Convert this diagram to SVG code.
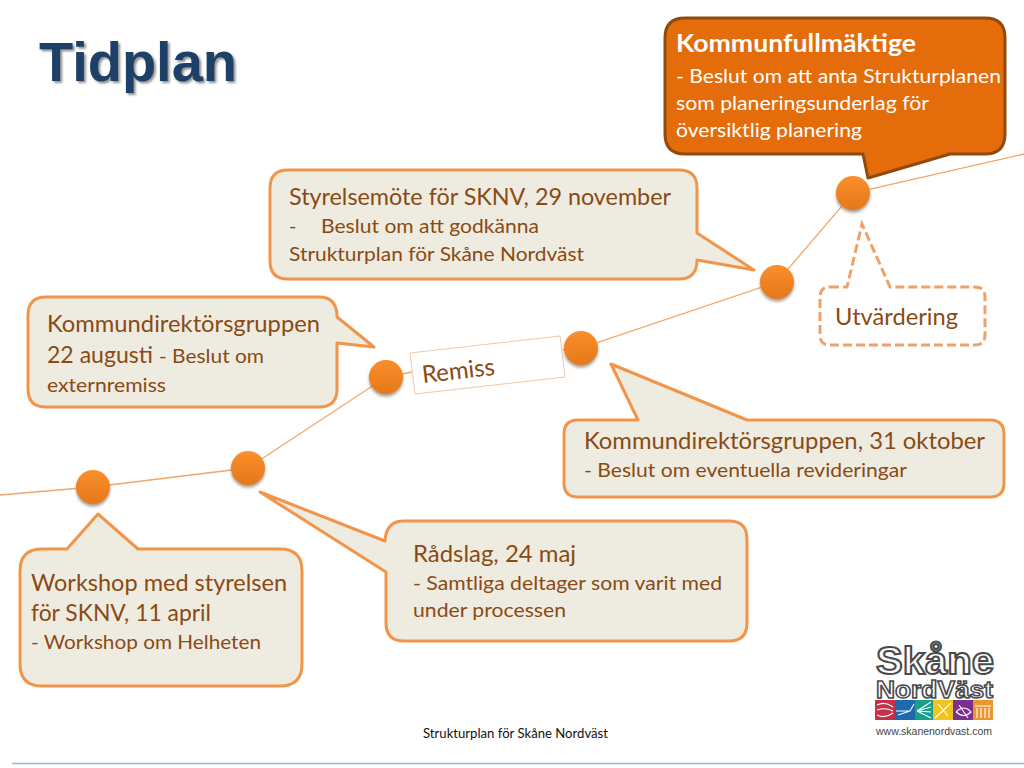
<svg xmlns="http://www.w3.org/2000/svg" width="1024" height="768" viewBox="0 0 1024 768">
<style>
text{font-family:"Lato","Carlito","Liberation Sans",sans-serif;fill:#8A4A14}
.callout{fill:#EEECE1;stroke:#F0954A;stroke-width:3;stroke-linejoin:round}
.l{font-size:24px}
.s{font-size:20px}
.w{fill:#fff}
.conn{fill:none;stroke:#EFA76C;stroke-width:1.3}
.dot{fill:url(#dotGrad);filter:url(#dotShadow)}
</style>
<defs>
<linearGradient id="dotGrad" x1="0" y1="0" x2="0" y2="1"><stop offset="0" stop-color="#FA8F2C"/><stop offset="1" stop-color="#E5781A"/></linearGradient>
<filter id="dotShadow" x="-40%" y="-40%" width="180%" height="180%"><feDropShadow dx="0" dy="2.5" stdDeviation="1.6" flood-color="#6E5A48" flood-opacity="0.6"/></filter>
<filter id="titleShadow" x="-5%" y="-10%" width="110%" height="125%"><feDropShadow dx="2" dy="2" stdDeviation="1.2" flood-color="#555" flood-opacity="0.65"/></filter>
</defs>
<rect width="1024" height="768" fill="#fff"/>
<text id="title" x="39" y="81" textLength="198" lengthAdjust="spacingAndGlyphs" style="font-family:'Liberation Sans',sans-serif;font-weight:700;font-size:56px;fill:#1F4068;filter:url(#titleShadow)">Tidplan</text>

<g id="connectors">
<path class="conn" d="M0 495L93 487L248 468L386 377L412 372M563 350L581 348L777 282L853 193L1024 154"/>
</g>

<g id="dots">
<circle id="dot1" class="dot" cx="93" cy="487" r="17"/>
<circle id="dot2" class="dot" cx="248" cy="468" r="17"/>
<circle id="dot3" class="dot" cx="386" cy="377" r="17"/>
<circle id="dot4" class="dot" cx="581" cy="348" r="17"/>
<circle id="dot5" class="dot" cx="777" cy="282" r="17"/>
<circle id="dot6" class="dot" cx="853" cy="193" r="17"/>
</g>

<g id="node-kommunfullmaktige">
<path d="M685 18H985Q1005 18 1005 38V134Q1005 154 985 154H950L868 178L863 154H685Q665 154 665 134V38Q665 18 685 18Z" fill="#E46C0A" stroke="#8F4A0C" stroke-width="3" stroke-linejoin="round"/>
<text class="w" x="676" y="52" textLength="240" lengthAdjust="spacingAndGlyphs" style="font-size:25px;font-weight:700">Kommunfullmäktige</text>
<text class="w s" x="676" y="83" textLength="325" lengthAdjust="spacingAndGlyphs">- Beslut om att anta Strukturplanen</text>
<text class="w s" x="676" y="110" textLength="253" lengthAdjust="spacingAndGlyphs">som planeringsunderlag för</text>
<text class="w s" x="676" y="137" textLength="186" lengthAdjust="spacingAndGlyphs">översiktlig planering</text>
</g>

<g id="node-styrelsemote">
<path class="callout" d="M288 170H679Q697 170 697 188V233L754 270L697 260Q697 279 679 279H288Q270 279 270 261V188Q270 170 288 170Z"/>
<text class="l" x="289" y="205" textLength="382" lengthAdjust="spacingAndGlyphs">Styrelsemöte för SKNV, 29 november</text>
<text class="s" x="289" y="233">-</text>
<text class="s" x="321" y="233" textLength="218" lengthAdjust="spacingAndGlyphs">Beslut om att godkänna</text>
<text class="s" x="289" y="261" textLength="295" lengthAdjust="spacingAndGlyphs">Strukturplan för Skåne Nordväst</text>
</g>

<g id="node-kommundirektor-aug">
<path class="callout" d="M46 297H319Q337 297 337 317L374 347L337 343V389Q337 407 319 407H46Q28 407 28 389V315Q28 297 46 297Z"/>
<text class="l" x="47" y="332" textLength="273" lengthAdjust="spacingAndGlyphs">Kommundirektörsgruppen</text>
<text class="l" x="47" y="363" textLength="106" lengthAdjust="spacingAndGlyphs">22 augusti</text>
<text class="s" x="159" y="363" textLength="105" lengthAdjust="spacingAndGlyphs">- Beslut om</text>
<text class="s" x="47" y="392" textLength="119" lengthAdjust="spacingAndGlyphs">externremiss</text>
</g>

<g id="node-remiss">
<polygon points="410,353 560,336 565,377 415,394" fill="#fff" stroke="#EBC9AC" stroke-width="1"/>
<text x="423" y="383" transform="rotate(-6.5 423 383)" textLength="73" lengthAdjust="spacingAndGlyphs" style="font-size:24px">Remiss</text>
</g>

<g id="node-kommundirektor-okt">
<path class="callout" d="M578 420H638L611 364L747 420H990Q1004 420 1004 434V483Q1004 497 990 497H578Q564 497 564 483V434Q564 420 578 420Z"/>
<text class="l" x="584" y="449" textLength="401" lengthAdjust="spacingAndGlyphs">Kommundirektörsgruppen, 31 oktober</text>
<text class="s" x="584" y="477" textLength="323" lengthAdjust="spacingAndGlyphs">- Beslut om eventuella revideringar</text>
</g>

<g id="node-radslag">
<path class="callout" d="M404 521H729Q747 521 747 539V623Q747 641 729 641H404Q386 641 386 623V572L260 492L385 541Q386 521 404 521Z"/>
<text class="l" x="413" y="562" textLength="163" lengthAdjust="spacingAndGlyphs">Rådslag, 24 maj</text>
<text class="s" x="413" y="590" textLength="309" lengthAdjust="spacingAndGlyphs">- Samtliga deltager som varit med</text>
<text class="s" x="413" y="617" textLength="153" lengthAdjust="spacingAndGlyphs">under processen</text>
</g>

<g id="node-workshop">
<path class="callout" d="M42 549H67L98 514L138 549H280Q302 549 302 571V664Q302 686 280 686H42Q20 686 20 664V571Q20 549 42 549Z"/>
<text class="l" x="31" y="591" textLength="256" lengthAdjust="spacingAndGlyphs">Workshop med styrelsen</text>
<text class="l" x="31" y="621" textLength="180" lengthAdjust="spacingAndGlyphs">för SKNV, 11 april</text>
<text class="s" x="31" y="649" textLength="230" lengthAdjust="spacingAndGlyphs">- Workshop om Helheten</text>
</g>

<g id="node-utvardering">
<path d="M830 287H847L862 224L890 287H975Q985 287 985 297V335Q985 345 975 345H830Q820 345 820 335V297Q820 287 830 287Z" fill="#fff" stroke="#EFA268" stroke-width="3" stroke-dasharray="9 4"/>
<text class="l" x="835" y="325" textLength="123" lengthAdjust="spacingAndGlyphs">Utvärdering</text>
</g>

<g id="logo">
<text x="876" y="674" textLength="118" lengthAdjust="spacingAndGlyphs" style="font-family:'Liberation Sans',sans-serif;font-weight:700;font-size:38px;fill:#fff;stroke:#4A4A4A;stroke-width:2;paint-order:normal">Skåne</text>
<text x="876" y="698" textLength="117" lengthAdjust="spacingAndGlyphs" style="font-family:'Liberation Sans',sans-serif;font-weight:700;font-size:24px;fill:#fff;stroke:#4A4A4A;stroke-width:1.5">NordVäst</text>
<rect x="875" y="700" width="20" height="20" fill="#C5304A"/>
<rect x="895" y="700" width="20" height="20" fill="#1C69AE"/>
<rect x="915" y="700" width="18" height="20" fill="#18A08C"/>
<rect x="933" y="700" width="20" height="20" fill="#F2C31C"/>
<rect x="953" y="700" width="20" height="20" fill="#7B2F8E"/>
<rect x="973" y="700" width="20" height="20" fill="#E8962E"/>
<path d="M877 705Q885 701 893 707M877 710Q885 707 893 711M877 715Q885 719 893 713M896 711H910L914 704M898 715L910 711M917 711L931 702M917 711L931 707M917 711L931 712M917 711L931 718M935 718L951 703M938 704L948 716M956 712Q964 704 971 712Q964 719 956 712M959 705L968 718M977 718V708M981 718V708M985 718V708M989 718V708M975 706H991" fill="none" stroke="#fff" stroke-width="1.1"/>
<text x="876" y="735" textLength="116" lengthAdjust="spacingAndGlyphs" style="font-family:'Liberation Sans',sans-serif;font-size:11px;fill:#444">www.skanenordvast.com</text>
</g>

<g id="footer">
<text x="423" y="738" textLength="185" lengthAdjust="spacingAndGlyphs" style="font-size:13px;fill:#111">Strukturplan för Skåne Nordväst</text>
<path d="M12 763.5H1024" stroke="#8DB8E8" stroke-width="1.5" fill="none"/>
</g>
</svg>
